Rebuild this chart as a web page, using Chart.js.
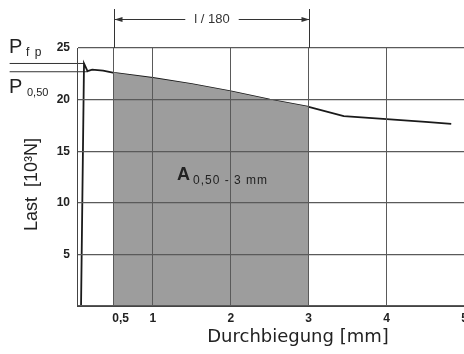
<!DOCTYPE html>
<html>
<head>
<meta charset="utf-8">
<script src="https://cdn.jsdelivr.net/npm/chart.js@4"></script>
<style>
    html, body { margin: 0; padding: 0; background: #fff; overflow: hidden; }
    #wrap { width: 464px; height: 354px; overflow: hidden; }
</style>
</head>
<body>
<div id="wrap"><canvas id="loadChart" width="560" height="354"></canvas></div>
<script>
// load / deflection curve (mm, 10^3 N)
const deflection = [0.077, 0.115, 0.16, 0.22, 0.36, 0.5, 1.0, 1.5, 2.0, 2.5, 3.0, 3.45, 4.0, 4.5, 4.83];
const load       = [0, 23.5, 22.75, 22.9, 22.8, 22.6, 22.1, 21.5, 20.8, 20.0, 19.3, 18.4, 18.1, 17.85, 17.65];

// shaded work area A between these deflections
const areaFrom = 0.5;
const areaTo = 3;

// characteristic loads
const pFp = 23.5;
const p050 = 22.7;
const pFpAt = 0.115;
const p050At = 0.16;

const xTicks = [0.5, 1, 2, 3, 4, 5];
const xTickLabels = ['    0,5', '1', '2', '3', '4', '5'];
const yTicks = [0, 5, 10, 15, 20, 25];

const gridColor = '#5a5a5a';
const frameColor = '#444444';
const inkColor = '#222222';

Chart.defaults.font.family = '"Liberation Sans", Arial, sans-serif';
Chart.defaults.color = inkColor;

const curve = deflection.map((d, i) => ({ x: d, y: load[i] }));
const area = curve.filter(p => p.x >= areaFrom && p.x <= areaTo);

// labels and the l/180 dimension above the plot
const sketchMarks = {
    id: 'sketchMarks',
    afterDraw(chart) {
        const { ctx, scales: { x, y }, chartArea } = chart;
        ctx.save();

        const xa = Math.round(x.getPixelForValue(areaFrom)) + 0.5;
        const xb = Math.round(x.getPixelForValue(areaTo)) + 0.5;
        const dimY = 19.5;

        ctx.strokeStyle = '#333';
        ctx.fillStyle = '#333';
        ctx.lineWidth = 1;

        ctx.beginPath();
        ctx.moveTo(xa, 9);
        ctx.lineTo(xa, chartArea.top);
        ctx.moveTo(xb, 9);
        ctx.lineTo(xb, chartArea.top);
        ctx.stroke();

        ctx.font = '13px "Liberation Sans", Arial, sans-serif';
        ctx.textAlign = 'center';
        ctx.textBaseline = 'middle';
        const label = 'l / 180';
        const mid = (xa + xb) / 2;
        const half = ctx.measureText(label).width / 2 + 9;
        ctx.fillText(label, mid, dimY);

        ctx.beginPath();
        ctx.moveTo(xa, dimY);
        ctx.lineTo(mid - half, dimY);
        ctx.moveTo(mid + half, dimY);
        ctx.lineTo(xb, dimY);
        ctx.stroke();

        ctx.beginPath();
        ctx.moveTo(xa, dimY);
        ctx.lineTo(xa + 8, dimY - 2.5);
        ctx.lineTo(xa + 8, dimY + 2.5);
        ctx.closePath();
        ctx.moveTo(xb, dimY);
        ctx.lineTo(xb - 8, dimY - 2.5);
        ctx.lineTo(xb - 8, dimY + 2.5);
        ctx.closePath();
        ctx.fill();

        // P labels left of the axis
        ctx.fillStyle = inkColor;
        ctx.textAlign = 'left';
        ctx.textBaseline = 'alphabetic';
        const yFp = y.getPixelForValue(pFp);
        const y050 = y.getPixelForValue(p050);
        ctx.font = '20px "Liberation Sans", Arial, sans-serif';
        ctx.fillText('P', 9, yFp - 10);
        ctx.fillText('P', 9, y050 + 21);
        ctx.font = '12px "Liberation Sans", Arial, sans-serif';
        ctx.letterSpacing = '1px';
        ctx.fillText('f p', 26, yFp - 7);
        ctx.font = '11px "Liberation Sans", Arial, sans-serif';
        ctx.letterSpacing = '0px';
        ctx.fillText('0,50', 27, y050 + 24);

        // area label
        const ax = x.getPixelForValue(1.31);
        const ay = y.getPixelForValue(12.2);
        ctx.font = 'bold 18px "Liberation Sans", Arial, sans-serif';
        ctx.fillText('A', ax, ay);
        ctx.font = '12px "Liberation Sans", Arial, sans-serif';
        ctx.letterSpacing = '1px';
        ctx.fillText('0,50 - 3 mm', ax + 16, ay + 4);

        ctx.restore();
    }
};

new Chart(document.getElementById('loadChart'), {
    type: 'line',
    data: {
        datasets: [
            {
                data: area,
                fill: 'origin',
                backgroundColor: '#9d9d9d',
                borderWidth: 0,
                pointRadius: 0,
                tension: 0
            },
            {
                data: curve,
                borderColor: '#1a1a1a',
                borderWidth: 1.8,
                pointRadius: 0,
                tension: 0,
                clip: false
            },
            {
                data: [{ x: -0.84, y: pFp }, { x: pFpAt, y: pFp }],
                borderColor: '#333',
                borderWidth: 1,
                pointRadius: 0,
                clip: false
            },
            {
                data: [{ x: -0.84, y: p050 }, { x: p050At, y: p050 }],
                borderColor: '#333',
                borderWidth: 1,
                pointRadius: 0,
                clip: false
            }
        ]
    },
    options: {
        responsive: false,
        animation: false,
        devicePixelRatio: 1,
        layout: { padding: { top: 48, right: 41, left: 0, bottom: 0 } },
        plugins: { legend: { display: false }, tooltip: { enabled: false } },
        scales: {
            x: {
                type: 'linear',
                min: 0.025,
                max: 5.7,
                afterBuildTicks: s => { s.ticks = xTicks.map(v => ({ value: v })); },
                afterFit: s => { s.height = 48; },
                ticks: {
                    autoSkip: false,
                    maxRotation: 0,
                    padding: 5,
                    font: { size: 12, weight: 'bold' },
                    callback: (v, i) => xTickLabels[i]
                },
                grid: { color: gridColor, lineWidth: 1, drawTicks: false, z: 1 },
                border: { color: frameColor, z: 2 },
                title: {
                    display: true,
                    text: 'Durchbiegung [mm]',
                    font: { family: '"DejaVu Sans", sans-serif', size: 18 },
                    padding: { top: 0, bottom: 6 }
                }
            },
            y: {
                type: 'linear',
                min: 0,
                max: 25,
                afterBuildTicks: s => { s.ticks = yTicks.map(v => ({ value: v })); },
                afterFit: s => { s.width = 77; },
                ticks: {
                    padding: 7,
                    font: { size: 12, weight: 'bold' },
                    callback: v => (v === 0 ? '' : String(v))
                },
                grid: { color: gridColor, lineWidth: 1.2, drawTicks: false, z: 1 },
                border: { color: frameColor, z: 2 },
                title: {
                    display: true,
                    text: 'Last  [10³N]   ',
                    font: { size: 18 },
                    padding: { top: 21, bottom: 0 }
                }
            }
        }
    },
    plugins: [sketchMarks]
});
</script>
</body>
</html>
